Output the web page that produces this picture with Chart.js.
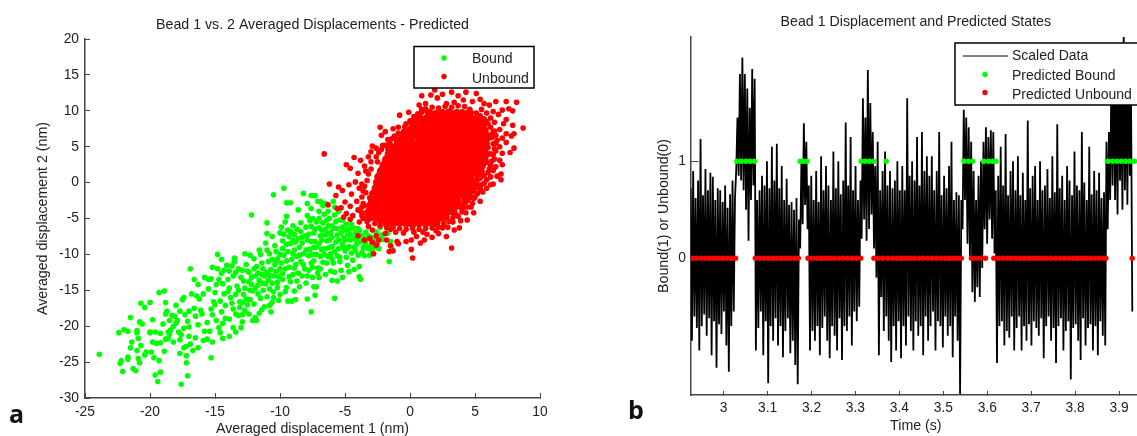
<!DOCTYPE html>
<html>
<head>
<meta charset="utf-8">
<title>Bead displacements</title>
<script src="https://cdn.jsdelivr.net/npm/chart.js@4"></script>
<style>
  html, body { margin: 0; padding: 0; background: #fff; overflow: hidden; width: 1137px; height: 436px; }
  canvas { position: absolute; top: 0; }
  #chartA { left: 0; }
  #chartB { left: 620px; }
  .tag { position: absolute; font: 700 25px "Open Sans", sans-serif; color: #111; line-height: 30px; }
</style>
</head>
<body>
<canvas id="chartA" width="560" height="436"></canvas>
<canvas id="chartB" width="525" height="436"></canvas>
<div class="tag" style="left:9px;top:398px">a</div>
<div class="tag" style="left:628px;top:394px">b</div>
<script>
const boundPoints = [
[-23.9,-23.9],[-22.4,-20.9],[-22,-20.5],[-21.7,-20.7],[-21.5,-18.8],[-22.3,-25.2],[-22.2,-24.8],[-22.1,-26.3],[-21.7,-24.3],[-21.7,-24.6],
[-21.3,-25.9],[-21.1,-26.2],[-21.5,-23],[-21.4,-22.2],[-21,-23.4],[-20.9,-24.5],[-20.8,-25.1],[-20.9,-21.7],[-21,-20.6],[-21,-20.9],
[-20.8,-19.4],[-20.6,-19.7],[-20.7,-16.8],[-20.4,-17.4],[-20,-16.7],[-20.4,-24],[-20.3,-23.6],[-19.7,-24.4],[-19.3,-24.8],[-19.6,-26.8],
[-19.2,-26.4],[-19.4,-27.7],[-20,-20.9],[-20,-20.8],[-19.6,-20.8],[-19.2,-21],[-19.8,-22.2],[-19.5,-22.4],[-19.2,-22.3],[-18.9,-23.5],
[-19.3,-15.3],[-18.9,-15.1],[-18.8,-16.7],[-18.8,-18.3],[-18.7,-17.9],[-18.8,-21.8],[-18.6,-21.7],[-18.6,-20.8],[-18.4,-20.5],[-18.5,-21.1],
[-18.5,-19.2],[-18.3,-18.5],[-18.1,-18.6],[-18.2,-20],[-18,-19.6],[-17.9,-19.2],[-17.8,-20.8],[-17.6,-21.2],[-17.7,-23.8],[-17.6,-28.1],
[-17.4,-23],[-17.2,-24.1],[-17.2,-22.8],[-17.1,-26.9],[-17.2,-25.1],[-17.3,-18.4],[-17.5,-16.3],[-17.4,-16],[-17.4,-20.3],[-17,-21.4],
[-17.1,-19.3],[-17,-20.1],[-16.9,-22.5],[-16.7,-23.4],[-16.5,-21.6],[-16.3,-23],[-16.8,-15.5],[-16.6,-13.5],[-16.9,-12],[-16.4,-15.8],
[-16.2,-16.2],[-16.1,-17.8],[-15.9,-15.5],[-16.5,-18.6],[-16,-18.3],[-15.8,-20.7],[-15.6,-21.8],[-15.4,-20.7],[-15.3,-24.4],[-15.5,-13.5],
[-15.3,-13.4],[-15.2,-18.4],[-15,-17],[-15.1,-16.6],[-14.8,-12],[-15.2,-11.8],[-14.9,-19.2],[-14.7,-20.2],[-14.6,-20.9],[-14.4,-21.7],
[-14.7,-13.5],[-14.4,-14.1],[-14.3,-15.5],[-14.6,-16.5],[-14.2,-17.1],[-14.5,-18],[-14.2,-18.9],[-14.8,-10],[-14.5,-10.7],[-14.1,-11.5],
[-13.9,-12.3],[-14,-13.5],[-13.8,-16],[-13.7,-16.8],[-13.6,-17.6],[-13.9,-21.4],[-13.6,-20.2],[-13.4,-20.8],[-13.7,-11.6],[-13.5,-11],
[-13.5,-10.5],[-13.3,-14.4],[-13.2,-15],[-13.4,-15.6],[-13.1,-16.6],[-13.2,-18.5],[-12.9,-19.4],[-13,-20.2],[-12.9,-12.2],[-12.8,-13.7],
[-12.7,-14.7],[-12.8,-15.6],[-12.6,-16.2],[-12.5,-17],[-12.7,-17.8],[-12.4,-18.3],[-12.7,-9.9],[-12.3,-10.1],[-12.4,-12.5],[-12.2,-13.2],
[-12.2,-14.2],[-12.1,-15.1],[-12.3,-16.3],[-12,-16.9],[-12.1,-19.2],[-11.8,-19.2],[-11.9,-18.8],[-12,-10.6],[-11.8,-11.7],[-11.7,-12.6],
[-11.6,-13.6],[-11.9,-14.7],[-11.7,-15.5],[-11.5,-16.1],[-11.4,-17.7],[-11.6,-18.2],[-11.2,-17.3],[-12.2,-4.5],[-11.5,-10],[-11.4,-11.2],
[-11.3,-12],[-11.2,-13],[-11.1,-14.1],[-11.3,-15],[-11,-15.9],[-10.8,-17.1],[-10.7,-18],[-11,-5.6],[-11,-7.1],[-11.1,-8.4],[-11,-9.4],
[-10.8,-9.9],[-10.9,-11],[-10.7,-12.1],[-10.8,-12.9],[-10.6,-14],[-10.5,-15.2],[-10.5,-16],[-10.6,-16.7],[-10.5,-1.7],[-10.6,-7.5],[-10.4,-8.8],
[-10.3,-9.6],[-10.2,-10.6],[-10.4,-11.4],[-10.3,-12.4],[-10.1,-13.1],[-10.2,-14.6],[-10,-15.6],[-10.1,-16.4],[-10,-7],[-9.9,-6.2],[-9.8,-8.1],
[-9.8,-9.2],[-9.7,-10.1],[-9.9,-11.2],[-9.6,-12],[-9.8,-13.5],[-9.5,-14.6],[-9.6,-15.2],[-9.4,-16.5],[-9.6,-5.5],[-9.5,-4.7],[-9.4,-6.6],
[-9.3,-7.5],[-9.2,-8.5],[-9.4,-9.6],[-9.1,-10.7],[-9.3,-11.8],[-9,-12.8],[-9.2,-13.8],[-8.9,-15.1],[-9.1,-16.5],[-8.8,-16.3],[-9.7,-0.8],[-9.5,-2.8],[-9.2,-2.8],
[-9,-6],[-8.9,-7.2],[-8.8,-8.3],[-8.9,-9.4],[-8.7,-10.3],[-8.8,-11.4],[-8.6,-12.6],[-8.7,-13.7],[-8.5,-14.5],[-8.6,-3.8],[-8.4,-5.6],[-8.4,-6.8],
[-8.3,-7.6],[-8.5,-9],[-8.2,-9.9],[-8.4,-11],[-8.1,-12],[-8.3,-13],[-8,-14],[-7.9,-16.2],[-7.6,-18],[-8.2,-1.5],[-7.9,-2.9],[-7.9,-4.6],[-8,-6.2],
[-7.8,-7.2],[-7.9,-8],[-7.7,-9.3],[-7.8,-10.2],[-7.6,-11.2],[-7.8,-12.2],[-7.5,-13.2],[-7.4,-14.5],[-7.3,-15.7],[-7.6,-3.6],[-7.5,-5],[-7.6,-6.1],
[-7.4,-7],[-7.3,-8.2],[-7.4,-9],[-7.2,-10],[-7.4,-10.9],[-7.1,-11.9],[-7,-13.2],[-7.2,-14.5],[-7.6,-1.8],[-7.3,-1.8],[-7.1,-2.6],[-7,-4],[-7.2,-5.5],
[-7,-6.3],[-6.9,-7.4],[-7,-8.5],[-6.8,-9.3],[-6.9,-10.3],[-6.7,-11.1],[-6.9,-12],[-6.5,-12.8],[-6.9,-2.6],[-6.7,-3.2],[-6.6,-4.4],[-6.7,-5.6],
[-6.5,-6.5],[-6.6,-7.3],[-6.4,-8.1],[-6.5,-9.2],[-6.3,-10.3],[-6.4,-11.2],[-6.1,-12.3],[-6,-13.6],[-5.8,-16.1],[-6.5,-2.9],[-6.3,-4],[-6.2,-5],
[-6.3,-6],[-6.1,-7],[-6.2,-8],[-6,-8.9],[-6.1,-9.9],[-5.9,-11.2],[-5.8,-12.5],[-5.6,-13.7],[-5.9,-2.6],[-5.8,-3.4],[-5.8,-4.5],[-5.7,-5.4],
[-5.9,-6.4],[-5.6,-7.3],[-5.7,-8.3],[-5.5,-9.2],[-5.6,-10.2],[-5.4,-11],[-5.3,-12.2],[-5.2,-13.2],[-5.5,-4],[-5.4,-5.2],[-5.2,-6.2],[-5.3,-7],
[-5.1,-7.7],[-5.2,-8.6],[-5,-9.5],[-4.9,-10.4],[-4.8,-11.5],[-4.7,-12.4],[-4.9,-5.8],[-4.7,-6.5],[-4.8,-7.3],[-4.6,-8],[-4.7,-8.9],[-4.5,-9.8],
[-4.4,-10.8],[-4.3,-12.1],[-4.4,-6.3],[-4.2,-7],[-4.3,-7.8],[-4.1,-8.5],[-4.2,-9.5],[-4,-10.1],[-3.9,-11.7],[-3.9,-13.1],[-3.8,-13.5],[-3.9,-6.7],
[-3.7,-7.4],[-3.8,-8.2],[-3.6,-9.1],[-3.7,-9.7],[-3.5,-10.2],[-3.4,-6.9],[-3.3,-7.7],[-3.4,-8.4],[-3.2,-9.2],[-3.1,-10.1],[-3,-7.6],[-2.9,-8.3],
[-2.8,-9],[-2.7,-8.1],[-2.5,-8.5],[-2.4,-9.2],[-2.2,-7.3],[-2.1,-7.9],[-1.7,-7],[-1.5,-8.2],[-1.4,-9.2],[-1.6,-11],[-2.6,-6.9],[-2.3,-6.2],
[-16.3,-14.2],[-15.8,-13.2],[-15.5,-14.8],[-15,-15.3],[-14.9,-14.2],[-14.5,-12.6],[-14.3,-12.2],[-14,-15.2],[-13.9,-14.7],[-13.6,-13],[-13.4,-12.5],[-13.2,-12],
[-13,-13.2],[-12.9,-16.7],[-12.6,-11.4],[-12.5,-12.3],[-12.4,-13.8],[-12.3,-15],[-12,-12],[-11.9,-13],[-11.7,-14.3],[-11.6,-9.4],[-11.4,-12.8],[-11.3,-14],
[-11,-12.5],[-10.9,-13.6],[-10.8,-14.8],[-10.6,-10.7],[-10.5,-13],[-10.3,-11],[-10.2,-13.9],[-10,-12],[-10,-10],[-9.8,-12.7],[-9.7,-7.2],[-9.5,-8.6],[-9.5,-10.9],
[-9.3,-13.1],[-9.2,-6.8],[-9,-8],[-9,-9.9],[-8.9,-11.9],[-8.7,-6.5],[-8.6,-7.8],[-8.5,-10.1],[-8.3,-8.4],[-8.2,-11.4],[-8,-7.4],[-8,-9.4],[-7.9,-13],[-7.7,-5.3],
[-7.6,-8.2],[-7.5,-10],[-7.5,-11.8],[-7.3,-6.5],[-7.2,-9],[-7.1,-12.6],[-7,-5],[-6.8,-6.6],[-6.8,-8],[-6.6,-10],[-6.4,-5.2],[-6.4,-7.2],[-6.2,-9],[-6,-6],[-6,-7.6],
[-6,-10.6],[-5.8,-9.6],[-5.6,-6.4],[-5.5,-8],[-5.4,-10.4],[-5.2,-5.2],[-5.1,-9],[-5,-6.6],[-5,-8],[-4.8,-9.1],[-4.6,-7.2],[-4.5,-5.8],[-4.3,-9],[-4,-6.4],[-4,-8],
[-3.6,-7.8],[-3.5,-8.8],[-3.2,-7.4],[-3,-8.8],[-2.6,-7.6],[-2.9,-9.6],
[-20.7,-22.7],[-19.9,-23.6],[-18.2,-22.2],[-17.7,-21.9],[-17,-17.9],[-16.6,-17.5],[-16.3,-19.8],[-15.9,-22],[-15.6,-19.5],[-15.3,-17.6],[-14.4,-19.6],[-13.9,-19],
[-13.4,-18.3],[-13.1,-17.4],[-12.9,-18.4],[-19.8,-19.1],[-19,-19.7],[-18,-17.1],[-17.7,-17.9],[-15.2,-22.2]
];
const unboundFringe = [
[-6.6,4],[8.7,7.6],[8.2,11.2],[7.4,11.3],[-0.8,9.4],[-2.2,6.6],[-1.3,7.5],[-4.3,3.5],[-4.9,2.5],[-4.6,2],[-6.2,-0.2],[-5.7,-1.8],[-6.3,-3.1],[3.2,-9.1],
[0.2,-10.5],[0.1,-9.3],[0.8,-8.4],[-1.6,-9.6],[-1.3,-9.5],[-2.8,-9.9],[-2.9,-8.3],[-1.5,-8.8],[-2.4,-8],[3.8,-6.3],[2.8,-7.5],[4.3,-4.2],[-5.2,-1.1],[-5,-2.7],
[8,4.8],[7.7,4.2],[7.1,2.5],[7,1.2],[7,0.4],[6.4,-0.2],[6.2,-0.3],[5,-2],[5.4,-2.6],[4.7,-3.4],[3.7,-4.7],[3.3,-5.5],[2.5,-6.3],[2,-6.7],[1.3,-7.2],[0.5,-7.5],
[-0.3,-8.2],[-1,-8.2],[-1.9,-7.1],[-2.6,-7.4],[-2.9,-6.6],[-2.3,-6],[-3.3,-5.4],[-4.4,-4.6],[-4.9,-4.3],[-5.1,-4.8],[-4.6,-3.3],[-4.1,-2.6],[-3.6,-1.2],[-4.7,-0.3],
[-4.2,0.1],[-3.9,-0.8],[-4,1.3],[-3.5,2.3],[-3.8,3.1],[-3.2,3.6],[-3.4,1.6],[-3,4.3],[-2.6,4.8],[-2.9,5.1],[-2.1,5.2],[-1.7,6],[-1.2,6.5],[-1.7,4.7],[-0.9,7.7],
[-0.3,8.2],[0.3,9.2],[-0.1,9.8],[0.6,9.6],[0.9,10.2],[1.2,11],[0.9,12.1],[1.6,12.2],[2.1,11.8],[2.5,12.3],[1.9,12.9],[3.2,12.6],[3.7,12.1],[4.1,11.5],[4.3,12.6],
[4.8,11.3],[5.1,12.4],[5.4,11.6],[5.7,11],[5.5,10.2],[6.1,10.8],[6.6,11.3],[6.4,9.9],[7.1,10.1],[6.8,9.5],[7.6,10.3],[7.9,10],[7.4,8.8],[6.5,8.4],[7.2,8.2],[7.9,8],
[6.9,7.4],[6.5,7.2],[7.4,6.8],[7.1,6.2],[7.8,6.5],[8,6.8],[6.7,5.9],[7.4,5.6],[6.9,5],[6.6,4.4],[7.1,4.1],[6.5,3.3],[6.9,3.1],[6.6,2.2],[6.4,1.7],[6.7,0.9],[6.2,0.8],
[6.1,1.9],[5.9,-0.8],[5.6,-1.3],[5.2,-0.6],[4.9,-4.2],[4.4,-5.2],[3.9,-5.3],[2.9,-6.2],[1.7,-7.6],[1,-6.9],[0.3,-6.9],[-0.5,-7],[-1.1,-6.9],[-1.5,-6.5],[-2,-5.3],
[-3.2,-6.1],[-3.7,-4.6],[-4,-3.8],[-3.7,-0.2],[-4.5,-1.6],[-5.5,-0.6],[-5.3,-3.5],[-2.3,7.7],[0.1,7.9],[-1.9,7.1],[0.7,10.8],[1.3,9.9],[2.8,11],[3.4,11.2],[4.6,10.2],
[5.9,9.7],[6.2,9],[5.9,8.5],[6.3,6.3],[6,4.9],[6.4,5.4],[6.2,4],[5.9,2.8],[5.7,1],[5.5,-0.3],[4.9,-1.2],[4.5,-2.3],[-3.5,-3.2],[-3.1,-2.1],[-2.5,2.9],[-1.6,5.6],[3.6,9.9],
[-2.6,-8.7],[-1.8,-8],[-0.9,-8.5],[0.1,-8],[1.1,-8],[2.2,-7.1],[3.4,-6.6],[-4.6,-5.1],[-3.9,-5.5],[-5.6,-3.6],[-3.1,-7.8],[-3.5,-8],[-4,-7.4],
[-3.6,-2.9],[-3.7,-2],[-3.4,-1.4],[-3.5,-0.5],[-3.3,0.3],[-3.2,1.2],[-3,1.9],[-3,2.9],[-2.6,3.6],[-2.4,4.2],[-2.2,4.6],[-1.9,5.2],[-1.5,5.3],[-1.4,6.1],[-1,6.1],[-0.9,6.9],
[-0.5,7.1],[-0.4,7.8],[0,8.6],[0.3,8.8],[0.6,9.1],[0.9,9.8],[1.2,10.3],[1.7,10.5],[2.2,10.4],[2.7,10.6],[3.2,10.5],[3.7,10.7],[4.2,10.6],[4.7,9.8],[5.1,9.7],[5.4,9.3],[5.7,8.9],[6,8.2],
[6.2,7.7],[6.4,7],[6.6,6.6],[6.6,5.5],[6.5,4.7],[6.4,3.9],[6.3,3],[6.2,2.4],[6,1.4],[5.9,0.4],[5.7,-0.1],[5.4,-0.9],[5.2,-1.5],[4.9,-2.2],[4.8,-2.9],[4.4,-3.4],[4,-4.1],[3.6,-4.5],
[3.3,-4.9],[3,-5.4],[2.6,-5.7],[2.2,-6.2],[1.7,-6.3],[1.2,-6.4],[0.7,-6.5],[0.2,-6.4],[-0.3,-6.5],[-0.8,-6.4],[-1.3,-6.2],[-1.8,-6.3],[-2.3,-5.4],[-2.7,-5.7],[-3.6,-5],[-3.4,-4.2],[-3.8,-4],[-3.7,-3.4]
];
const unboundCore = [
[1.5,9.6],[2,9.5],[2.5,9.6],[3,9.7],[3.5,9.5],[4,9.6],[4.5,9.6],
[0.8,8.8],[1.3,8.9],[1.8,8.7],[2.3,8.8],[2.8,8.8],[3.3,8.9],[3.8,8.7],[4.3,8.8],[4.8,8.8],[5.2,8.7],
[0.3,8],[0.8,8.1],[1.4,8],[1.9,7.9],[2.4,8],[2.9,8],[3.4,8.1],[3.9,8],[4.4,7.9],[4.9,8],[5.5,8],
[0,7.2],[0.5,7.3],[1,7.2],[1.5,7.1],[2,7.2],[2.6,7.2],[3.1,7.3],[3.6,7.2],[4.1,7.1],[4.6,7.2],[5.2,7.2],[5.7,7.3],
[-0.5,6.4],[0,6.4],[0.6,6.5],[1.1,6.4],[1.6,6.3],[2.1,6.4],[2.6,6.4],[3.1,6.5],[3.6,6.4],[4.1,6.3],[4.6,6.4],[5.1,6.4],[5.6,6.5],[6,6.4],
[-0.9,5.6],[-0.4,5.7],[0.1,5.6],[0.7,5.5],[1.2,5.6],[1.7,5.6],[2.2,5.7],[2.7,5.6],[3.2,5.5],[3.7,5.6],[4.2,5.6],[4.7,5.7],[5.2,5.6],[5.8,5.5],
[-1.4,4.8],[-0.9,4.8],[-0.4,4.9],[0.1,4.8],[0.6,4.7],[1.1,4.8],[1.6,4.8],[2.1,4.9],[2.6,4.8],[3.1,4.7],[3.6,4.8],[4.1,4.8],[4.6,4.9],[5.1,4.8],[5.6,4.7],
[-1.6,4],[-1.1,4.1],[-0.6,4],[-0.1,3.9],[0.4,4],[0.9,4],[1.4,4.1],[1.9,4],[2.4,3.9],[2.9,4],[3.4,4],[3.9,4.1],[4.4,4],[4.9,3.9],[5.4,4],[5.8,4],
[-1.8,3.2],[-1.3,3.2],[-0.8,3.3],[-0.3,3.2],[0.2,3.1],[0.7,3.2],[1.2,3.2],[1.7,3.3],[2.2,3.2],[2.7,3.1],[3.2,3.2],[3.7,3.2],[4.2,3.3],[4.7,3.2],[5.2,3.1],[5.7,3.2],
[-2,2.4],[-1.5,2.5],[-1,2.4],[-0.5,2.3],[0,2.4],[0.5,2.4],[1,2.5],[1.5,2.4],[2,2.3],[2.5,2.4],[3,2.4],[3.5,2.5],[4,2.4],[4.5,2.3],[5,2.4],[5.5,2.4],
[-2.2,1.6],[-1.7,1.6],[-1.2,1.7],[-0.7,1.6],[-0.2,1.5],[0.3,1.6],[0.8,1.6],[1.3,1.7],[1.8,1.6],[2.3,1.5],[2.8,1.6],[3.3,1.6],[3.8,1.7],[4.3,1.6],[4.8,1.5],[5.4,1.6],
[-2.4,0.8],[-1.9,0.9],[-1.4,0.8],[-0.9,0.7],[-0.4,0.8],[0.1,0.8],[0.6,0.9],[1.1,0.8],[1.6,0.7],[2.1,0.8],[2.6,0.8],[3.1,0.9],[3.6,0.8],[4.1,0.7],[4.6,0.8],[5.3,0.8],
[-2.5,0],[-2,0],[-1.5,0.1],[-1,0],[-0.5,-0.1],[0,0],[0.5,0],[1,0.1],[1.5,0],[2,-0.1],[2.5,0],[3,0],[3.5,0.1],[4,0],[4.5,-0.1],[5,0],
[-2.6,-0.8],[-2.1,-0.7],[-1.6,-0.8],[-1.1,-0.9],[-0.6,-0.8],[-0.1,-0.8],[0.4,-0.7],[0.9,-0.8],[1.4,-0.9],[1.9,-0.8],[2.4,-0.8],[2.9,-0.7],[3.4,-0.8],[3.9,-0.9],[4.8,-0.8],[4.4,-0.8],
[-2.8,-1.6],[-2.3,-1.6],[-1.8,-1.5],[-1.3,-1.6],[-0.8,-1.7],[-0.3,-1.6],[0.2,-1.6],[0.7,-1.5],[1.2,-1.6],[1.7,-1.7],[2.2,-1.6],[2.7,-1.6],[3.2,-1.5],[3.7,-1.6],[4.2,-1.7],[4.5,-1.6],
[-2.9,-2.4],[-2.4,-2.3],[-1.9,-2.4],[-1.4,-2.5],[-0.9,-2.4],[-0.4,-2.4],[0.1,-2.3],[0.6,-2.4],[1.1,-2.5],[1.6,-2.4],[2.1,-2.4],[2.6,-2.3],[3.1,-2.4],[3.6,-2.5],[4.3,-2.4],
[-3,-3.2],[-2.5,-3.2],[-2,-3.1],[-1.5,-3.2],[-1,-3.3],[-0.5,-3.2],[0,-3.2],[0.5,-3.1],[1,-3.2],[1.5,-3.3],[2,-3.2],[2.5,-3.2],[3,-3.1],[3.5,-3.2],[4,-3.3],
[-3.1,-4],[-2.6,-4],[-2.1,-3.9],[-1.6,-4],[-1.1,-4.1],[-0.6,-4],[-0.1,-4],[0.4,-3.9],[0.9,-4],[1.4,-4.1],[1.9,-4],[2.4,-4],[2.9,-3.9],[3.3,-4],
[-3.1,-4.8],[-2.6,-4.8],[-2.1,-4.7],[-1.6,-4.8],[-1.1,-4.9],[-0.6,-4.8],[-0.1,-4.8],[0.4,-4.7],[0.9,-4.8],[1.4,-4.9],[1.9,-4.8],[2.4,-4.8],[2.7,-4.7],
[-1.8,-5.6],[-1.3,-5.6],[-0.8,-5.5],[-0.3,-5.6],[0.2,-5.7],[0.7,-5.6],[1.2,-5.6],[1.7,-5.5],[2,-5.6]
];
const xTicksA = [-25, -20, -15, -10, -5, 0, 5, 10];
const yTicksA = [-30, -25, -20, -15, -10, -5, 0, 5, 10, 15, 20];

const scaledData = [
.72,-.85,.9,-.6,.62,-.72,.8,-.95,1.23,-.7,.65,-.58,.92,-.8,.7,-.62,.88,-1,.84,-.65,.6,-1.13,.72,-.68,.7,-.78,.58,-.55,.75,-.9,.52,-1.17,.66,-.7,.8,-.55,.62,
.9,1.45,.85,1.9,.8,2.07,.7,1.9,.5,1.75,.18,1.55,.6,1.95,.75,1.85,
-.95,.6,-.72,.7,-.55,.85,-1,.75,-.65,1,-1.29,.72,-.7,1.15,-.85,.8,-.62,1.18,-.9,.72,-.7,.95,-1.02,.6,-.75,.82,-.62,.55,-.98,.58,-.85,.5,-1.1,.62,-1.3,.4,
.1,1,.35,1.39,.55,1.2,.3,
.75,-.95,.85,-.75,.6,-.85,.9,-.7,.58,-1,1.05,-.72,.7,-.6,.95,-.85,.75,-1.03,.6,-.7,1.1,-.8,.72,-.95,1,-.62,.66,-1.05,.8,-.7,1.4,-.75,.75,-.6,1.25,-.9,.7,-.55,.95,-.65,.6,-.5,.8,
.2,1.65,.4,1.45,.18,1.94,.3,1.6,.45,1.3,.1,
.95,-.2,1.2,-1,.7,-.4,.9,-.75,1.1,
-.6,.75,-.85,.9,-1.07,.72,-.7,.8,-.95,1,-.65,.7,-1.03,.95,-.7,.7,-.9,1.65,-.6,.85,-.75,1,-.95,.8,-.65,1.25,-.8,.75,-.7,1.3,-1,.9,-.6,1.05,-.85,.85,-.7,1.05,-.55,.7,-.95,.9,-.65,1.3,-.7,.65,-.92,.85,-.6,.72,-.8,.95,-.7,1.2,-1.02,.6,-.6,.68,-.85,.65,-1.4,.6,
.3,1.53,.6,1.45,.15,1.35,0,1.2,
-.35,.9,-.45,.6,-.3,.85,-.4,1,-.1,
1.2,.3,1.35,.15,1.25,.4,1.32,.2,1.3,.05,
.7,-1.08,.85,-.7,1.15,-.65,.75,-.9,1.28,-.75,.65,-.82,.9,-.6,1,-.95,.7,-.72,1.05,-.6,.65,-.95,.88,-.7,.6,-.85,1.42,-.68,.72,-.9,.85,-.65,.95,-.72,.6,-.8,1,-.62,.7,-1.03,.75,-.7,.92,-.6,.62,-.85,1.05,-.72,.68,-1.08,1.38,-.7,.72,-.62,.85,-.95,.6,-.75,.95,-.65,.8,-1.25,.65,-.72,1.1,-.68,.75,-.85,.7,-1.05,1.3,-.62,.78,-.9,.6,-.72,1.15,-.68,.66,-.95,.9,-.7,.7,-1,.88,-.65,.62,-.8,.68,-.9,
1.2,.3,1.3,.6,1.9,.75,2.2,.6,1.75,.45,2.1,.8,1.65,.5,2.3,.7,1.8,.55,2.2,.85,1.6,-.55
];
const sampleStart = 2.925;
const sampleStep = 0.0028;
const boundTimes = [3.03,3.04,3.05,3.06,3.07,3.174,3.182,3.19,3.313,3.322,3.332,3.342,3.37,3.547,3.557,3.567,3.592,3.603,3.612,3.62,3.875,3.885,3.895,3.905,3.915,3.925,3.935];
const unboundTimes = [2.928,2.938,2.948,2.958,2.968,2.978,2.988,2.998,3.008,3.018,3.027,3.072,3.082,3.092,3.102,3.112,3.122,3.132,3.142,3.152,3.162,3.17,3.192,3.202,3.212,3.222,3.232,3.242,3.252,3.262,3.272,3.282,3.292,3.302,3.312,3.342,3.352,3.362,3.374,3.384,3.394,3.404,3.414,3.424,3.434,3.444,3.454,3.464,3.474,3.484,3.494,3.504,3.514,3.524,3.534,3.541,3.564,3.574,3.584,3.596,3.615,3.625,3.635,3.645,3.655,3.665,3.675,3.685,3.695,3.705,3.715,3.725,3.735,3.745,3.755,3.765,3.775,3.785,3.795,3.805,3.815,3.825,3.835,3.845,3.855,3.865,3.87,3.93];
const xTicksB = [3, 3.1, 3.2, 3.3, 3.4, 3.5, 3.6, 3.7, 3.8, 3.9];
const yTicksB = [0, 1];

const FONT = '"Liberation Sans", Arial, sans-serif';
const INK = '#222';
const AXIS = '#444';

// boxed legend that sits inside the plot, drawn over the data
const boxLegend = {
  id: 'boxLegend',
  afterDatasetsDraw(chart, args, o) {
    const ctx = chart.ctx;
    ctx.save();
    ctx.fillStyle = '#fff';
    ctx.fillRect(o.left, o.top, o.right - o.left, o.bottom - o.top);
    ctx.strokeStyle = '#000';
    ctx.lineWidth = 1.5;
    ctx.strokeRect(o.left, o.top, o.right - o.left, o.bottom - o.top);
    ctx.font = '14px ' + FONT;
    ctx.textBaseline = 'middle';
    o.items.forEach(it => {
      if (it.line) {
        ctx.strokeStyle = '#000';
        ctx.lineWidth = 1;
        ctx.beginPath();
        ctx.moveTo(o.lineFrom, it.y);
        ctx.lineTo(o.lineTo, it.y);
        ctx.stroke();
      } else {
        ctx.fillStyle = it.color;
        ctx.beginPath();
        ctx.arc(o.markX, it.markY, 2.7, 0, Math.PI * 2);
        ctx.fill();
      }
      ctx.fillStyle = INK;
      ctx.fillText(it.label, o.textX, it.y);
    });
    ctx.restore();
  }
};

function axisGrid(tickLength) {
  return { drawOnChartArea: false, drawTicks: true, tickLength: tickLength, color: AXIS, lineWidth: 1 };
}

const titleFont = { family: FONT, size: 14.2, weight: 'normal', lineHeight: 1.2 };
const tickFont = { family: FONT, size: 13.8 };

new Chart(document.getElementById('chartA'), {
  type: 'scatter',
  data: {
    datasets: [
      { label: 'Unbound', data: unboundFringe.map(([x, y]) => ({ x, y })), backgroundColor: '#ff0000', pointRadius: 2.8, pointBorderWidth: 0, order: 1 },
      { label: 'Unbound core', data: unboundCore.map(([x, y]) => ({ x, y })), backgroundColor: '#ff0000', pointRadius: 4.6, pointBorderWidth: 0, order: 1 },
      { label: 'Bound', data: boundPoints.map(([x, y]) => ({ x, y })), backgroundColor: '#00ff00', pointRadius: 2.8, pointBorderWidth: 0, order: 2 }
    ]
  },
  options: {
    responsive: false,
    animation: false,
    layout: { padding: { left: 0, right: 20, top: 0, bottom: 0 } },
    plugins: {
      legend: { display: false },
      tooltip: { enabled: false },
      title: {
        display: true, fullSize: false, text: 'Bead 1 vs. 2 Averaged Displacements - Predicted',
        color: INK, font: titleFont, padding: { top: 17, bottom: 5 }
      },
      boxLegend: {
        left: 414, top: 46.5, right: 534, bottom: 88, markX: 444, textX: 472,
        items: [
          { label: 'Bound', color: '#00ff00', y: 59, markY: 58 },
          { label: 'Unbound', color: '#ff0000', y: 79, markY: 76.5 }
        ]
      }
    },
    scales: {
      x: {
        type: 'linear', min: -25, max: 10,
        afterFit(s) { s.height = 38; },
        afterBuildTicks(s) { s.ticks = xTicksA.map(value => ({ value })); },
        grid: axisGrid(-5),
        border: { color: AXIS, width: 1.5 },
        ticks: { color: INK, font: tickFont, padding: 11, autoSkip: false, maxRotation: 0 },
        title: { display: true, text: 'Averaged displacement 1 (nm)', color: INK, font: titleFont, padding: { top: 0, bottom: -1.5 } }
      },
      y: {
        type: 'linear', min: -30, max: 20,
        afterFit(s) { s.width = 85; },
        afterBuildTicks(s) { s.ticks = yTicksA.map(value => ({ value })); },
        grid: axisGrid(-5),
        border: { color: AXIS, width: 1.5 },
        ticks: { color: INK, font: tickFont, padding: 11, autoSkip: false },
        title: { display: true, text: 'Averaged displacement 2 (nm)', color: INK, font: titleFont, padding: { top: 34.5, bottom: 0 } }
      }
    }
  },
  plugins: [boxLegend]
});

new Chart(document.getElementById('chartB'), {
  type: 'scatter',
  data: {
    datasets: [
      { label: 'Scaled Data', data: scaledData.map((y, i) => ({ x: sampleStart + i * sampleStep, y })), showLine: true, borderColor: '#000', borderWidth: 1.8, pointRadius: 0, tension: 0, order: 3 },
      { label: 'Predicted Bound', data: boundTimes.map(x => ({ x, y: 1 })), backgroundColor: '#00ff00', pointRadius: 2.7, pointBorderWidth: 0, order: 2 },
      { label: 'Predicted Unbound', data: unboundTimes.map(x => ({ x, y: 0 })), backgroundColor: '#ff0000', pointRadius: 2.7, pointBorderWidth: 0, order: 1 }
    ]
  },
  options: {
    responsive: false,
    animation: false,
    layout: { padding: 0 },
    plugins: {
      legend: { display: false },
      tooltip: { enabled: false },
      title: {
        display: true, fullSize: false, text: 'Bead 1 Displacement and Predicted States',
        color: INK, font: titleFont, padding: { top: 14, bottom: 6 }
      },
      boxLegend: {
        left: 335, top: 43, right: 540, bottom: 105, lineFrom: 343, lineTo: 388, markX: 365, textX: 392,
        items: [
          { label: 'Scaled Data', line: true, y: 56 },
          { label: 'Predicted Bound', color: '#00ff00', y: 76, markY: 74.5 },
          { label: 'Predicted Unbound', color: '#ff0000', y: 95, markY: 92.5 }
        ]
      }
    },
    scales: {
      x: {
        type: 'linear', min: 2.925, max: 3.95,
        afterFit(s) { s.height = 41; },
        afterBuildTicks(s) { s.ticks = xTicksB.map(value => ({ value })); },
        grid: axisGrid(-4),
        border: { color: AXIS, width: 1.5 },
        ticks: { color: INK, font: tickFont, padding: 9, autoSkip: false, maxRotation: 0, callback: v => String(v) },
        title: { display: true, text: 'Time (s)', color: INK, font: titleFont, padding: { top: 0, bottom: 1 } }
      },
      y: {
        type: 'linear', min: -1.41, max: 2.28,
        afterFit(s) { s.width = 70.7; },
        afterBuildTicks(s) { s.ticks = yTicksB.map(value => ({ value })); },
        grid: axisGrid(-8),
        border: { color: AXIS, width: 1.5 },
        ticks: { color: INK, font: tickFont, padding: 12.7, autoSkip: false, callback: v => String(v) },
        title: { display: true, text: 'Bound(1) or Unbound(0)', color: INK, font: titleFont, padding: { top: 35.5, bottom: 0 } }
      }
    }
  },
  plugins: [boxLegend]
});
</script>
</body>
</html>
